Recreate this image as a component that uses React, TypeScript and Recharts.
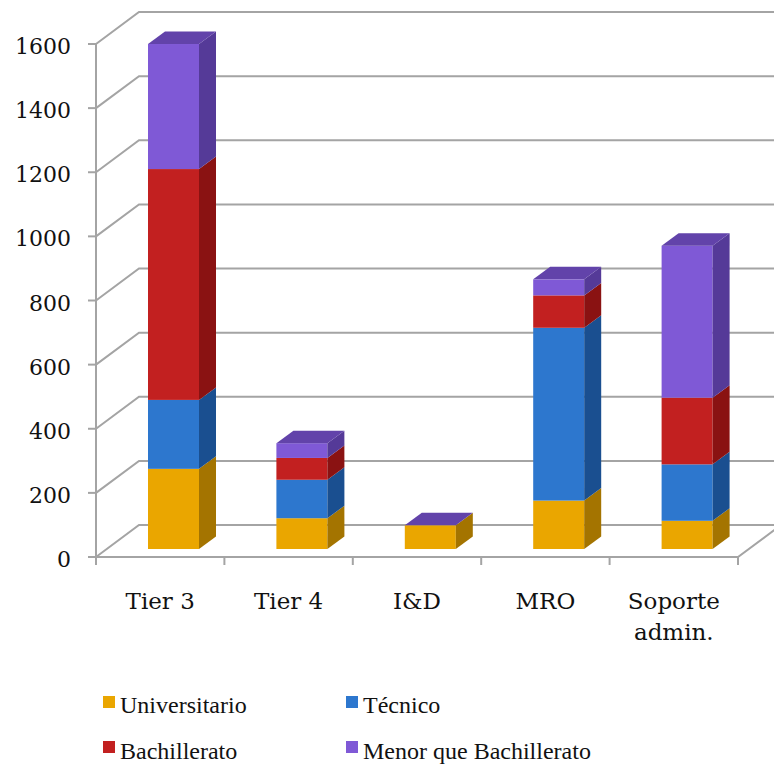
import { Bar, BarChart, CartesianGrid, Legend, XAxis, YAxis } from 'recharts';

const categories = ['Tier 3', 'Tier 4', 'I&D', 'MRO', 'Soporte admin.'];
const universitario = [250, 96, 74, 151, 88];
const tecnico = [215, 120, 0, 539, 176];
const bachillerato = [720, 68, 0, 101, 208];
const menorQueBachillerato = [390, 46, 0, 50, 474];
const yTicks = [0, 200, 400, 600, 800, 1000, 1200, 1400, 1600];

const series = [
  { key: 'universitario', name: 'Universitario', front: '#EAA600', side: '#A47400', values: universitario },
  { key: 'tecnico', name: 'Técnico', front: '#2D77CE', side: '#1A4F90', values: tecnico },
  { key: 'bachillerato', name: 'Bachillerato', front: '#C22020', side: '#8A1212', values: bachillerato },
  { key: 'menor', name: 'Menor que Bachillerato', front: '#7F59D6', side: '#553A98', values: menorQueBachillerato },
];
const TOP_COLOR = '#6243AA';

const data = categories.map((name, i) => {
  const row: Record<string, string | number> = { name };
  series.forEach((s) => (row[s.key] = s.values[i]));
  return row;
});

// chart box and plot area (plot area = the plane the bar fronts sit on)
const W = 774;
const H = 765;
const PLOT_LEFT = 109;
const PLOT_TOP = 36;
const PLOT_W = 642;
const PLOT_H = 513;
const Y_AXIS_W = 60;
const X_AXIS_H = 40;
const BAND = PLOT_W / categories.length;

// 3d offsets relative to the bar plane
const FRONT = { dx: -13, dy: 8 };
const BACK = { dx: 30, dy: -24 };
const DEPTH = { dx: 17, dy: 12.5 };

const GRID = '#a4a4a4';
const TEXT = '#111';

// side wall diagonal + back wall line for each value
const GridLine = (props: any) => {
  const { x1, x2, y1 } = props;
  const d =
    `M${x1 + FRONT.dx},${y1 + FRONT.dy} ` +
    `L${x1 + BACK.dx},${y1 + BACK.dy} ` +
    `L${x2 + BACK.dx},${y1 + BACK.dy}`;
  return <path d={d} fill="none" stroke={GRID} strokeWidth={2} />;
};

const FrontYTick = (props: any) => {
  const { payload } = props;
  const fy = payload.coordinate + FRONT.dy;
  const axisX = PLOT_LEFT + FRONT.dx;
  return (
    <g>
      {payload.value === 0 && (
        <line x1={axisX} x2={axisX} y1={fy} y2={fy - PLOT_H} stroke={GRID} strokeWidth={2} />
      )}
      <line x1={axisX - 8} x2={axisX} y1={fy} y2={fy} stroke={GRID} strokeWidth={2} />
      <text x={axisX - 25} y={fy + 10} textAnchor="end" fill={TEXT} fontFamily="DejaVu Serif" fontSize={22}>
        {payload.value}
      </text>
    </g>
  );
};

const FloorTick = (props: any) => {
  const { payload, index } = props;
  const cx = payload.coordinate + FRONT.dx;
  const floorY = PLOT_TOP + PLOT_H + FRONT.dy;
  const left = cx - BAND / 2;
  const label = String(payload.value);
  const lines = label.length > 10 ? label.split(' ') : [label];
  const last = index === categories.length - 1;
  return (
    <g>
      {index === 0 && (
        <path
          d={`M${left},${floorY} L${left + PLOT_W},${floorY} L${left + PLOT_W + BACK.dx - FRONT.dx},${floorY + BACK.dy - FRONT.dy}`}
          fill="none"
          stroke={GRID}
          strokeWidth={2}
        />
      )}
      <line x1={left} x2={left} y1={floorY} y2={floorY + 8} stroke={GRID} strokeWidth={2} />
      {last && <line x1={left + BAND} x2={left + BAND} y1={floorY} y2={floorY + 8} stroke={GRID} strokeWidth={2} />}
      <text textAnchor="middle" fill={TEXT} fontFamily="DejaVu Serif" fontSize={23}>
        {lines.map((t, i) => (
          <tspan key={t} x={cx} y={609 + i * 31}>
            {t}
          </tspan>
        ))}
      </text>
    </g>
  );
};

const makeBox = (front: string, side: string, top?: string) => (props: any) => {
  const { x, y, width, height } = props;
  const r = x + width;
  return (
    <g>
      <rect x={x} y={y} width={width} height={height} fill={front} />
      <polygon
        points={`${r},${y} ${r + DEPTH.dx},${y - DEPTH.dy} ${r + DEPTH.dx},${y + height - DEPTH.dy} ${r},${y + height}`}
        fill={side}
      />
      {top && (
        <polygon
          points={`${x},${y} ${x + DEPTH.dx},${y - DEPTH.dy} ${r + DEPTH.dx},${y - DEPTH.dy} ${r},${y}`}
          fill={top}
        />
      )}
    </g>
  );
};

const LegendGrid = () => (
  <svg width={W} height={85}>
    {series.map((s, i) => {
      const col = i % 2;
      const row = Math.floor(i / 2);
      const sx = col === 0 ? 103 : 346;
      return (
        <g key={s.key}>
          <rect x={sx} y={16 + row * 45} width={12} height={12} fill={s.front} />
          <text x={sx + 17} y={33 + row * 46} fill={TEXT} fontFamily="Liberation Serif" fontSize={24}>
            {s.name}
          </text>
        </g>
      );
    })}
  </svg>
);

export default function App() {
  return (
    <div style={{ position: 'absolute', left: 0, top: 0, background: '#fff' }}>
      <BarChart
        width={W}
        height={H}
        data={data}
        margin={{
          top: PLOT_TOP,
          right: W - PLOT_LEFT - PLOT_W,
          left: PLOT_LEFT - Y_AXIS_W,
          bottom: H - PLOT_TOP - PLOT_H - X_AXIS_H,
        }}
      >
        <CartesianGrid vertical={false} horizontal={GridLine} />
        <XAxis dataKey="name" height={X_AXIS_H} axisLine={false} tickLine={false} interval={0} tick={FloorTick} />
        <YAxis
          width={Y_AXIS_W}
          domain={[0, 1600]}
          ticks={yTicks}
          axisLine={false}
          tickLine={false}
          tick={FrontYTick}
        />
        {series.map((s, i) => (
          <Bar
            key={s.key}
            dataKey={s.key}
            name={s.name}
            stackId="total"
            fill={s.front}
            barSize={51}
            isAnimationActive={false}
            shape={makeBox(s.front, s.side, i === series.length - 1 ? TOP_COLOR : undefined)}
          />
        ))}
        <Legend
          layout="vertical"
          align="center"
          verticalAlign="middle"
          wrapperStyle={{ left: 0, top: 680, width: W, height: 85 }}
          content={LegendGrid}
        />
      </BarChart>
    </div>
  );
}
